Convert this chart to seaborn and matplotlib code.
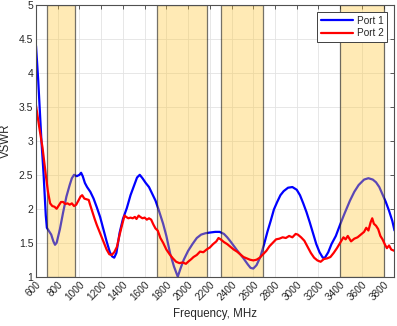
import numpy as np
import pandas as pd
import seaborn as sns
import matplotlib
matplotlib.use("Agg")
import matplotlib.pyplot as plt
from matplotlib.lines import Line2D

# ---- data ----
freq_p1 = [600, 620, 650, 670, 690, 700, 720, 740, 760, 775, 790, 820, 850, 880, 910, 930, 950, 975,
           1000, 1015, 1030, 1050, 1070, 1100, 1130, 1160, 1190, 1220, 1250, 1280, 1300, 1320, 1340,
           1370, 1400, 1436, 1470, 1500, 1530, 1555, 1580, 1610, 1640, 1670, 1700, 1730, 1770, 1800,
           1835, 1870, 1905, 1930, 1960, 2000, 2040, 2080, 2120, 2160, 2200, 2250, 2290, 2330, 2360,
           2390, 2450, 2510, 2550, 2575, 2600, 2630, 2665, 2700, 2730, 2760, 2790, 2820, 2850, 2880,
           2920, 2960, 3000, 3030, 3060, 3090, 3120, 3150, 3180, 3210, 3240, 3260, 3290, 3320, 3360,
           3400, 3440, 3490, 3530, 3570, 3620, 3660, 3700, 3730, 3760, 3790, 3820, 3850, 3880, 3900]
vswr_p1 = [4.40, 3.90, 3.00, 2.50, 1.90, 1.72, 1.67, 1.62, 1.52, 1.47, 1.50, 1.70, 1.95, 2.18, 2.35,
           2.45, 2.50, 2.48, 2.50, 2.53, 2.48, 2.38, 2.32, 2.25, 2.15, 2.02, 1.88, 1.70, 1.52, 1.36,
           1.30, 1.28, 1.35, 1.65, 1.85, 2.01, 2.20, 2.33, 2.46, 2.50, 2.45, 2.38, 2.32, 2.22, 2.12,
           1.98, 1.78, 1.60, 1.34, 1.15, 1.00, 1.12, 1.25, 1.38, 1.48, 1.57, 1.62, 1.64, 1.65, 1.66,
           1.66, 1.63, 1.58, 1.52, 1.39, 1.27, 1.18, 1.13, 1.12, 1.17, 1.29, 1.48, 1.66, 1.82, 1.99,
           2.10, 2.20, 2.26, 2.31, 2.32, 2.28, 2.20, 2.08, 1.95, 1.80, 1.64, 1.48, 1.36, 1.28, 1.28,
           1.36, 1.48, 1.60, 1.77, 1.93, 2.12, 2.25, 2.35, 2.43, 2.45, 2.43, 2.39, 2.32, 2.21, 2.10,
           1.97, 1.82, 1.68]

freq_p2 = [600, 630, 660, 690, 710, 730, 750, 770, 790, 810, 830, 850, 870, 890, 910, 930, 950, 970,
           990, 1010, 1025, 1045, 1065, 1085, 1100, 1120, 1140, 1160, 1190, 1220, 1250, 1275, 1297,
           1320, 1345, 1370, 1395, 1415, 1430, 1450, 1470, 1490, 1510, 1525, 1545, 1560, 1580, 1600,
           1620, 1640, 1660, 1680, 1700, 1720, 1745, 1770, 1800, 1830, 1860, 1890, 1920, 1950, 1980,
           2000, 2030, 2050, 2080, 2110, 2140, 2170, 2200, 2230, 2260, 2280, 2300, 2330, 2360, 2390,
           2420, 2450, 2480, 2510, 2540, 2570, 2600, 2630, 2660, 2690, 2720, 2750, 2780, 2810, 2840,
           2870, 2900, 2930, 2960, 2990, 3010, 3040, 3070, 3100, 3130, 3160, 3190, 3220, 3250, 3280,
           3310, 3340, 3370, 3400, 3430, 3450, 3470, 3500, 3530, 3560, 3590, 3620, 3640, 3660, 3680,
           3695, 3710, 3730, 3750, 3770, 3790, 3810, 3830, 3850, 3870, 3900]
vswr_p2 = [3.52, 3.20, 2.90, 2.50, 2.25, 2.08, 2.04, 2.03, 2.00, 2.05, 2.10, 2.10, 2.07, 2.08, 2.06,
           2.08, 2.04, 2.06, 2.12, 2.18, 2.20, 2.15, 2.14, 2.13, 2.05, 1.95, 1.85, 1.76, 1.64, 1.52,
           1.40, 1.33, 1.32, 1.36, 1.44, 1.62, 1.78, 1.90, 1.88, 1.86, 1.87, 1.86, 1.88, 1.85, 1.90,
           1.88, 1.86, 1.87, 1.84, 1.86, 1.84, 1.77, 1.71, 1.68, 1.57, 1.50, 1.40, 1.33, 1.27, 1.22,
           1.20, 1.21, 1.19, 1.22, 1.26, 1.29, 1.32, 1.37, 1.36, 1.40, 1.43, 1.48, 1.52, 1.57, 1.55,
           1.51, 1.48, 1.44, 1.40, 1.37, 1.33, 1.29, 1.27, 1.25, 1.24, 1.25, 1.28, 1.33, 1.38, 1.45,
           1.50, 1.55, 1.56, 1.58, 1.57, 1.60, 1.58, 1.63, 1.62, 1.58, 1.53, 1.44, 1.35, 1.28, 1.24,
           1.22, 1.26, 1.27, 1.29, 1.35, 1.42, 1.50, 1.58, 1.55, 1.60, 1.52, 1.56, 1.58, 1.62, 1.66,
           1.72, 1.68, 1.80, 1.86, 1.78, 1.75, 1.70, 1.60, 1.55, 1.48, 1.42, 1.46, 1.40, 1.38]

band_start = [698, 1710, 2300, 3400]
band_end = [960, 2170, 2690, 3800]

series_names = ["Port 1", "Port 2"]
x_ticks = list(range(600, 3801, 200))
y_ticks = [1, 1.5, 2, 2.5, 3, 3.5, 4, 4.5, 5]

# ---- style ----
sns.set_style("white")
plt.rcParams['font.family'] = ['Liberation Sans', 'DejaVu Sans']

fig = plt.figure(figsize=(3.97, 3.26), dpi=100)
ax = fig.add_axes([0.0907, 0.1512, 0.9030, 0.8335])

sns.lineplot(x=freq_p1, y=vswr_p1, color=(0, 0, 1), linewidth=1.6, ax=ax, zorder=2)
for s, e in zip(band_start, band_end):
    ax.axvspan(s, e, facecolor=(1.0, 0.78, 0.2, 0.36), edgecolor=(0.1, 0.1, 0.1, 0.6),
               linewidth=0.9, zorder=3)
sns.lineplot(x=freq_p2, y=vswr_p2, color=(1, 0, 0), linewidth=1.6, ax=ax, zorder=4)

ax.set_xlim(600, 3900)
ax.set_ylim(1, 5)
ax.set_xticks(x_ticks)
ax.set_xticklabels([str(t) for t in x_ticks], rotation=45, ha='right', va='top',
                   rotation_mode='anchor', fontsize=7.2, color='#262626')
ax.set_yticks(y_ticks)
ax.set_yticklabels([f"{t:g}" for t in y_ticks], fontsize=7.5, color='#262626')
ax.tick_params(direction='in', length=3, width=0.6, color='#404040', top=True, right=True,
               pad=2)
ax.grid(True, color='#e3e3e3', linewidth=0.6)
ax.set_axisbelow(True)
for sp in ax.spines.values():
    sp.set_color('#505050')
    sp.set_linewidth(0.8)
    sp.set_zorder(6)

ax.set_xlabel("Frequency, MHz", fontsize=8.3, color='#262626', labelpad=4)
ax.set_ylabel("VSWR", fontsize=8.3, color='#262626', labelpad=5)

handles = [Line2D([0], [0], color=(0, 0, 1), lw=1.6), Line2D([0], [0], color=(1, 0, 0), lw=1.6)]
leg = ax.legend(handles, series_names, loc='upper right', bbox_to_anchor=(0.985, 0.98),
                fontsize=7.2, frameon=True, fancybox=False, handlelength=3.2, handletextpad=0.4,
                borderpad=0.35, labelspacing=0.25, borderaxespad=0.2)
leg.get_frame().set_edgecolor('#404040')
leg.get_frame().set_linewidth(0.7)
leg.get_frame().set_alpha(1)
leg.set_zorder(10)

fig.savefig("out.png", dpi=100)
